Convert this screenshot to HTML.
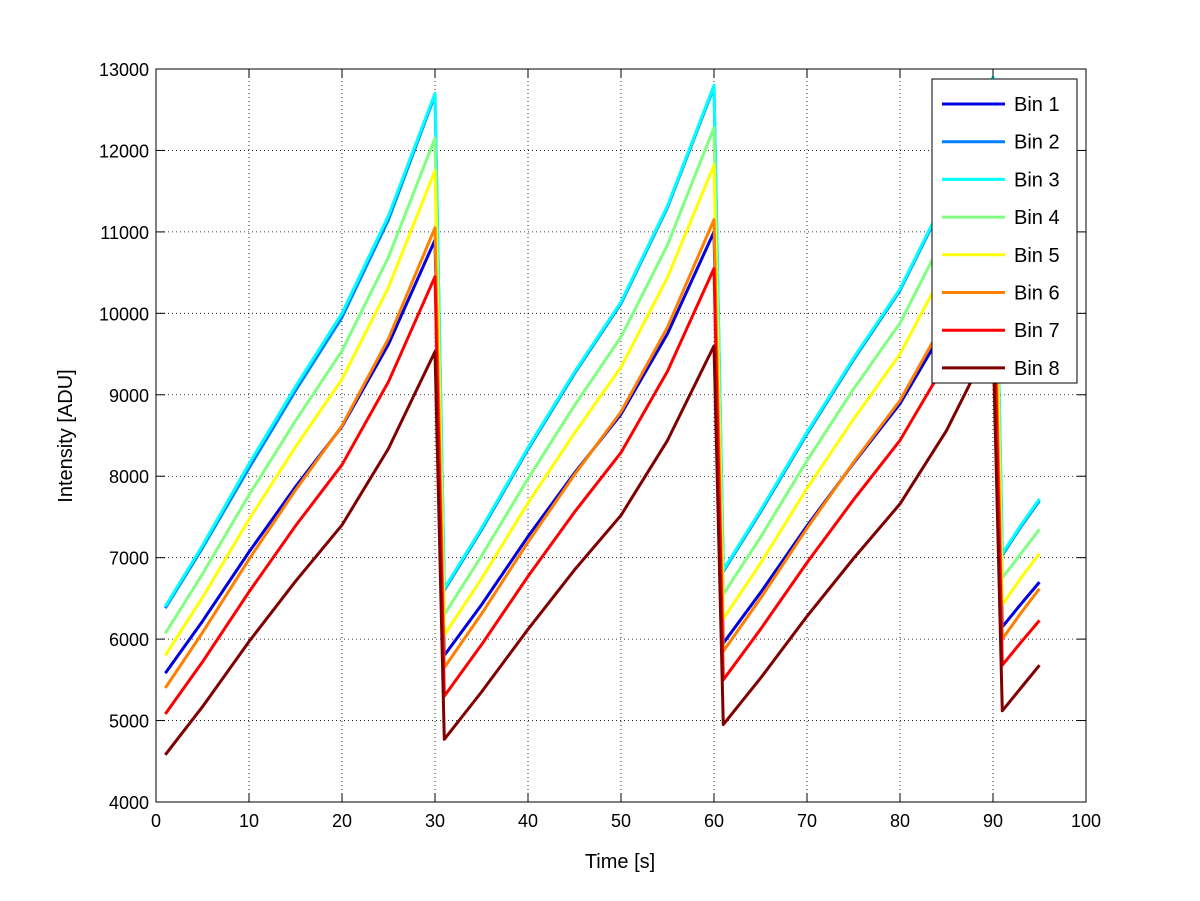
<!DOCTYPE html>
<html><head><meta charset="utf-8"><style>
body{margin:0;background:#fff;}
svg{display:block;font-family:"Liberation Sans",sans-serif;}
</style></head><body>
<svg id="chart" width="1200" height="901" viewBox="0 0 1200 901">
<rect width="1200" height="901" fill="#fff"/>
<g id="grid"></g>
<g id="lines"></g>
<rect x="156" y="69" width="930" height="733" fill="none" stroke="#000" stroke-width="1"/>
<g id="ticks"></g>
<text x="620" y="868" font-size="20" text-anchor="middle">Time [s]</text>
<text transform="translate(72,436) rotate(-90)" font-size="20" text-anchor="middle">Intensity [ADU]</text>
<g id="legend"></g>
</svg>
<script>
const times = [1,5,10,15,20,25,30,31,35,40,45,50,55,60,61,65,70,75,80,85,90,91,93,95];
const seriesNames = ["Bin 1","Bin 2","Bin 3","Bin 4","Bin 5","Bin 6","Bin 7","Bin 8"];
const bin1 = [5580,6220,7070,7870,8610,9620,10900, 5800,6420,7260,8040,8760,9750,11000, 5950,6570,7390,8160,8890,9860,11100, 6150,6430,6700];
const bin2 = [6380,7120,8100,9050,9950,11150,12680, 6600,7340,8330,9260,10120,11300,12780, 6830,7560,8520,9430,10280,11430,12880, 7030,7380,7700];
const bin3 = [6400,7150,8150,9100,10000,11200,12700, 6620,7360,8350,9280,10140,11320,12800, 6850,7580,8540,9450,10300,11450,12900, 7050,7400,7720];
const bin4 = [6070,6800,7770,8680,9540,10690,12150, 6300,7020,7970,8870,9710,10840,12280, 6550,7250,8190,9070,9880,11000,12400, 6750,7050,7350];
const bin5 = [5800,6510,7470,8360,9190,10320,11750, 6050,6740,7670,8530,9340,10440,11820, 6250,6930,7850,8700,9500,10580,11950, 6420,6750,7050];
const bin6 = [5400,6080,6980,7830,8620,9690,11050, 5650,6310,7190,8020,8790,9830,11150, 5850,6500,7360,8170,8930,9950,11250, 6000,6320,6620];
const bin7 = [5080,5720,6580,7390,8140,9160,10450, 5300,5930,6770,7560,8290,9290,10550, 5500,6120,6940,7710,8440,9410,10650, 5680,5960,6230];
const bin8 = [4580,5170,5970,6710,7400,8340,9530, 4770,5350,6120,6850,7520,8440,9600, 4950,5520,6280,6990,7660,8560,9700, 5120,5400,5680];
const xTicks = [0,10,20,30,40,50,60,70,80,90,100];
const yTicks = [4000,5000,6000,7000,8000,9000,10000,11000,12000,13000];

const allSeries = [bin1,bin2,bin3,bin4,bin5,bin6,bin7,bin8];
const colors = ["#0000e0","#0080ff","#00ffff","#80ff80","#ffff00","#ff8000","#ff0000","#800000"];
const NS = "http://www.w3.org/2000/svg";
const X0=156,X1=1086,Y0=802,Y1=69;
const xs = v => X0 + (v-0)/(100-0)*(X1-X0);
const ys = v => Y0 - (v-4000)/(13000-4000)*(Y0-Y1);
function mk(tag, attrs, parent){const e=document.createElementNS(NS,tag);for(const k in attrs)e.setAttribute(k,attrs[k]);parent.appendChild(e);return e;}
const grid=document.getElementById('grid'), ticks=document.getElementById('ticks'), lines=document.getElementById('lines'), legend=document.getElementById('legend');
xTicks.forEach(t=>{
  const x=xs(t);
  if(t>0&&t<100){const g=mk('line',{x1:x,x2:x,y1:Y1,y2:Y0,stroke:'#000','stroke-width':0.8,'stroke-dasharray':'1,3'},grid);
  
  }
  mk('line',{x1:x,x2:x,y1:Y0,y2:Y0-9,stroke:'#000'},ticks);
  mk('line',{x1:x,x2:x,y1:Y1,y2:Y1+9,stroke:'#000'},ticks);
  const l=mk('text',{x:x,y:Y0+25,'font-size':18,'text-anchor':'middle'},ticks);
  l.textContent=t;
  
  
});
yTicks.forEach(t=>{
  const y=ys(t);
  if(t>4000&&t<13000){const g=mk('line',{x1:X0,x2:X1,y1:y,y2:y,stroke:'#000','stroke-width':0.8,'stroke-dasharray':'1,3'},grid);
  
  }
  mk('line',{x1:X0,x2:X0+9,y1:y,y2:y,stroke:'#000'},ticks);
  mk('line',{x1:X1,x2:X1-9,y1:y,y2:y,stroke:'#000'},ticks);
  const l=mk('text',{x:X0-7,y:y+7,'font-size':18,'text-anchor':'end'},ticks);
  l.textContent=t;
  
  
});
allSeries.forEach((s,i)=>{
  const d=s.map((v,j)=>(j?'L':'M')+xs(times[j]).toFixed(1)+','+ys(v).toFixed(1)).join(' ');
  const p=mk('path',{d:d,fill:'none',stroke:colors[i],'stroke-width':3,'stroke-linejoin':'round'},lines);
  
  
});
const lb=mk('rect',{x:932,y:79,width:145,height:304,fill:'#fff',stroke:'#000'},legend);


seriesNames.forEach((n,i)=>{
  const y=104+i*37.7;
  const g=mk('g',{},legend);
  
  
  mk('line',{x1:942,x2:1005,y1:y,y2:y,stroke:colors[i],'stroke-width':3},g);
  const t=mk('text',{x:1014,y:y+7,'font-size':20},g);
  t.textContent=n;
});
</script>
</body></html>
